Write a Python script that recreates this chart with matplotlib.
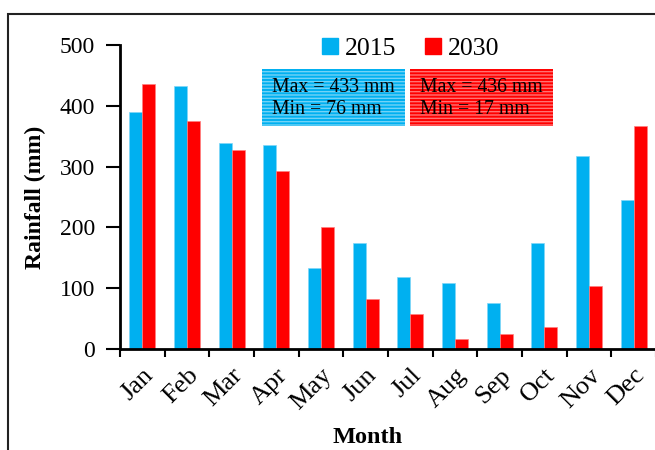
import matplotlib
matplotlib.use("Agg")
import matplotlib.pyplot as plt
import numpy as np
from matplotlib.patches import Rectangle
from matplotlib.lines import Line2D

plt.rcParams['font.family'] = ['Liberation Serif', 'DejaVu Serif']

months = ["Jan", "Feb", "Mar", "Apr", "May", "Jun",
          "Jul", "Aug", "Sep", "Oct", "Nov", "Dec"]
rain_2015 = [390, 433, 338, 336, 134, 175, 118, 109, 76, 175, 317, 245]
rain_2030 = [436, 375, 327, 293, 201, 82, 58, 17, 24, 37, 103, 367]

blue = "#00b0f0"
red = "#ff0000"

fig = plt.figure(figsize=(6.55, 4.5), dpi=100)
ax = fig.add_axes([120/655, 1-349/450, 536/655, 304/450])

# outer frame around the chart (runs off the right and bottom edges)
fig.patches.append(Rectangle((8/655, -0.1), 1.2, 1-14/450+0.1, transform=fig.transFigure,
                             fill=False, edgecolor="#222222", linewidth=1.5, zorder=0))

x = np.arange(len(months))
w = 0.29
ax.bar(x - w/2, rain_2015, width=w, color=blue, edgecolor="#7fd6f7", linewidth=0.5)
ax.bar(x + w/2, rain_2030, width=w, color=red, edgecolor="#ff7f7f", linewidth=0.5)

ax.set_xlim(-0.5, 11.5)
ax.set_ylim(0, 500)
ax.set_yticks(range(0, 501, 100))
ax.tick_params(axis='y', labelsize=17, length=10, width=1.5, direction='out', pad=8)

ax.set_xticks(x)
ax.set_xticklabels(months, rotation=45, ha='right', rotation_mode='anchor', fontsize=19)
ax.tick_params(axis='x', length=0, pad=11)
ax.set_xticks(np.arange(-0.5, 12, 1), minor=True)
ax.tick_params(axis='x', which='minor', length=6, width=1.5, direction='out')

for s in ['top', 'right']:
    ax.spines[s].set_visible(False)
for s in ['left', 'bottom']:
    ax.spines[s].set_linewidth(2)

ax.set_ylabel("Rainfall (mm)", fontsize=17, fontweight='bold')
ax.yaxis.set_label_coords(-0.138, 0.5)
ax.set_xlabel("Month", fontsize=17.5, fontweight='bold')
ax.xaxis.set_label_coords(0.461, -0.255)

handles = [Line2D([], [], marker='s', linestyle='none', color=blue, markersize=11, label='2015'),
           Line2D([], [], marker='s', linestyle='none', color=red, markersize=11, label='2030')]
ax.legend(handles=handles, loc='center', bbox_to_anchor=(0.54, 0.99), ncol=2, frameon=False,
          fontsize=18.5, handletextpad=0.2, columnspacing=1.0, handlelength=0.8)

# max / min boxes with striped fill
def stat_box(x0, x1, color, lines):
    y0 = 1 - 126/450
    h = 57/450
    fig.patches.append(Rectangle((x0/655, y0), (x1-x0)/655, h, transform=fig.transFigure,
                                 facecolor=color, edgecolor='none', zorder=3))
    fig.patches.append(Rectangle((x0/655, y0), (x1-x0)/655, h, transform=fig.transFigure,
                                 facecolor='none', edgecolor=(1, 1, 1, 0.45), hatch='-----',
                                 linewidth=0, zorder=4))
    fig.text((x0+10)/655, 1-87/450, lines[0], fontsize=14.2, va='center', zorder=5)
    fig.text((x0+10)/655, 1-109/450, lines[1], fontsize=14.2, va='center', zorder=5)

stat_box(262, 405, blue, ["Max = 433 mm", "Min = 76 mm"])
stat_box(410, 553, red, ["Max = 436 mm", "Min = 17 mm"])

fig.savefig("out.png", dpi=100)
